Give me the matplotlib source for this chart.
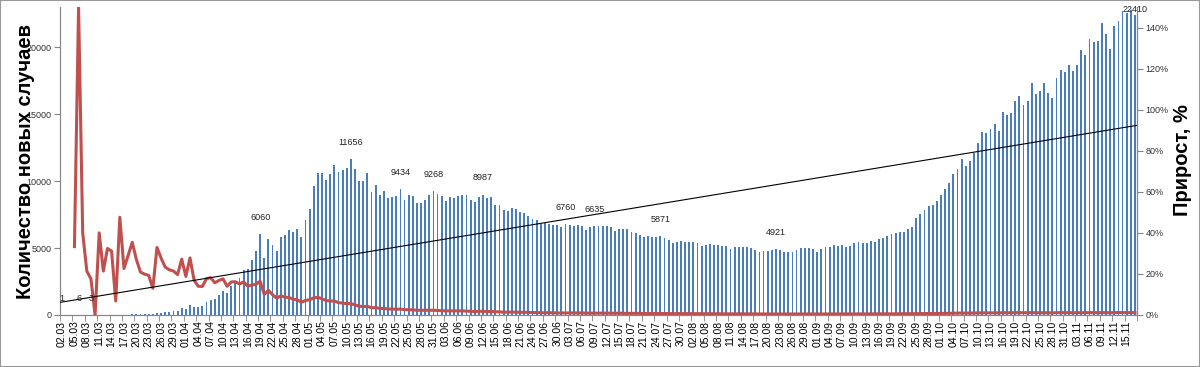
import numpy as np
import pandas as pd
import matplotlib.pyplot as plt
from matplotlib.patches import Rectangle

plt.rcParams['font.family'] = ['Liberation Sans', 'DejaVu Sans']

# daily new cases, 02.03 - 17.11
cases_mar = [1, 0, 0, 1, 6, 4, 3, 3, 0, 8, 6, 11, 14, 4, 30, 21, 33, 52, 54, 53,
             61, 71, 57, 163, 182, 196, 228, 270, 302, 500]
cases_apr = [440, 771, 601, 582, 658, 954, 1154, 1175, 1459, 1786, 1667, 2186, 2558,
             2774, 3388, 3448, 4070, 4785, 6060, 4268, 5642, 5236, 4774, 5849, 5966,
             6361, 6198, 6411, 5841, 7099]
cases_may = [7933, 9623, 10633, 10581, 10102, 10559, 11231, 10699, 10817, 11012, 11656,
             10899, 10028, 9974, 10598, 9200, 9709, 8926, 9263, 8764, 8849, 8894, 9434,
             8599, 8946, 8915, 8338, 8371, 8572, 8952, 9268]
cases_jun = [9035, 8863, 8536, 8831, 8726, 8855, 8984, 8985, 8595, 8404, 8779, 8987,
             8706, 8835, 8246, 8248, 7843, 7790, 7972, 7889, 7728, 7600, 7425, 7176,
             7113, 6800, 6852, 6791, 6719, 6693]
cases_jul = [6556, 6760, 6718, 6632, 6736, 6611, 6368, 6562, 6635, 6632, 6615, 6611,
             6537, 6248, 6422, 6428, 6406, 6234, 6109, 5940, 5842, 5862, 5848, 5811,
             5871, 5765, 5635, 5395, 5475, 5509, 5482]
cases_aug = [5462, 5427, 5394, 5159, 5204, 5267, 5241, 5212, 5189, 5118, 4945, 5102,
             5057, 5061, 5065, 4969, 4839, 4718, 4748, 4767, 4870, 4921, 4852, 4696,
             4676, 4711, 4829, 4993, 4980, 4980, 4897]
cases_sep = [4729, 4952, 5110, 5110, 5205, 5185, 5195, 5099, 5172, 5363, 5449, 5406,
             5394, 5509, 5488, 5670, 5762, 5905, 6065, 6148, 6196, 6215, 6431, 6595,
             7212, 7523, 7867, 8135, 8232, 8481]
cases_oct = [8945, 9412, 9859, 10499, 10888, 11615, 11115, 11493, 12126, 12846, 13634,
             13592, 13868, 14231, 13754, 15150, 14922, 15099, 15982, 16319, 15700,
             15971, 17340, 16521, 16710, 17347, 16550, 16202, 17717, 18283, 18140]
cases_nov = [18665, 18257, 18648, 19768, 19404, 20582, 20396, 20498, 21798, 21020,
             19851, 21608, 21983, 22702, 22572, 22778, 22410]

# daily growth of the total, %
nan = np.nan
growth_mar = [nan, nan, nan, 33.3, 150, 40, 21.4, 17.6, 0, 40, 21.4, 32.4, 31.1, 6.8,
              47.6, 22.6, 28.9, 35.4, 27.1, 20.9, 19.9, 19.3, 13.0, 32.9, 27.7, 23.3,
              22.0, 21.4, 19.7, 27.2]
growth_apr = [18.8, 27.8, 16.9, 14.0, 13.9, 17.7, 18.2, 15.7, 16.8, 17.6, 14.0, 16.1,
              16.2, 15.1, 16.1, 14.1, 14.6, 14.9, 16.5, 10.0, 12.0, 9.9, 8.2, 9.3, 8.7,
              8.5, 7.7, 7.4, 6.2, 7.1]
growth_may = [7.4, 8.4, 8.6, 7.9, 7.0, 6.8, 6.8, 6.0, 5.8, 5.5, 5.6, 4.9, 4.3, 4.1, 4.2,
              3.5, 3.6, 3.2, 3.2, 2.9, 2.9, 2.8, 2.9, 2.6, 2.6, 2.5, 2.3, 2.3, 2.3, 2.3,
              2.3]
growth_jun = [2.2, 2.1, 2.0, 2.0, 2.0, 2.0, 2.0, 1.9, 1.8, 1.7, 1.8, 1.8, 1.7, 1.7, 1.6,
              1.5, 1.4, 1.4, 1.4, 1.4, 1.3, 1.3, 1.3, 1.2, 1.2, 1.1, 1.1, 1.1, 1.1, 1.0]
growth_jul = [1.0, 1.0, 1.0, 1.0, 1.0, 1.0, 0.9, 0.9, 0.9, 0.9, 0.9, 0.9, 0.9, 0.8, 0.9,
              0.8, 0.8, 0.8, 0.8, 0.8, 0.7, 0.7, 0.7, 0.7, 0.7, 0.7, 0.7, 0.6, 0.7, 0.7,
              0.7]
growth_aug = [0.65, 0.64, 0.63, 0.60, 0.60, 0.61, 0.60, 0.59, 0.58, 0.57, 0.55, 0.56,
              0.55, 0.55, 0.55, 0.53, 0.52, 0.50, 0.50, 0.50, 0.51, 0.51, 0.50, 0.49,
              0.48, 0.49, 0.50, 0.51, 0.51, 0.50, 0.49]
growth_sep = [0.48, 0.50, 0.51, 0.51, 0.52, 0.51, 0.51, 0.50, 0.50, 0.52, 0.53, 0.52,
              0.52, 0.53, 0.52, 0.54, 0.55, 0.56, 0.57, 0.57, 0.57, 0.57, 0.59, 0.60,
              0.65, 0.68, 0.71, 0.73, 0.73, 0.75]
growth_oct = [0.76, 0.79, 0.83, 0.87, 0.90, 0.95, 0.90, 0.92, 0.96, 1.01, 1.06, 1.05,
              1.06, 1.07, 1.03, 1.12, 1.09, 1.09, 1.14, 1.15, 1.10, 1.10, 1.18, 1.12,
              1.12, 1.15, 1.08, 1.05, 1.13, 1.16, 1.13]
growth_nov = [1.15, 1.12, 1.13, 1.18, 1.15, 1.20, 1.18, 1.17, 1.23, 1.17, 1.09, 1.18,
              1.18, 1.21, 1.19, 1.18, 1.15]

# bars that carry a value label
labelled_days = ['02.03', '06.03', '09.03', '19.04', '11.05', '23.05', '31.05',
                 '12.06', '02.07', '09.07', '25.07', '22.08', '17.11']

cases = np.array(cases_mar + cases_apr + cases_may + cases_jun + cases_jul +
                 cases_aug + cases_sep + cases_oct + cases_nov)
growth = np.array(growth_mar + growth_apr + growth_may + growth_jun + growth_jul +
                  growth_aug + growth_sep + growth_oct + growth_nov) / 100
days = pd.date_range('2020-03-02', periods=len(cases)).strftime('%d.%m').tolist()
x = np.arange(len(cases))

gray = '#868686'
fig = plt.figure(figsize=(12, 3.67), dpi=100)
ax = fig.add_axes([0.05, 0.1417, 0.8975, 0.8392])

ax.bar(x, cases, width=0.45, color='#4a7ebb', zorder=2)
ax.set_xlim(-0.5, len(x) - 0.5)
ax.set_ylim(0, 23000)

ax.set_yticks(range(0, 20001, 5000))
ax.tick_params(axis='y', labelsize=6.5, length=4, color=gray, labelcolor='#333333', pad=2)
ax.set_xticks(x[::3])
ax.set_xticklabels(days[::3], rotation=90, fontsize=7.5)
ax.set_xticks(np.arange(-0.5, len(x), 3), minor=True)
ax.tick_params(axis='x', which='major', length=0, pad=4)
ax.tick_params(axis='x', which='minor', length=4, color=gray)

ax2 = ax.twinx()
ax2.plot(x, growth, color='#c0504d', lw=2.2, zorder=2)
ax2.set_ylim(0, 1.5)
ax2.set_yticks(np.arange(0, 1.41, 0.2))
ax2.set_yticklabels([f'{v}%' for v in range(0, 141, 20)])
ax2.tick_params(axis='y', labelsize=6.5, length=4, color=gray, labelcolor='#333333', pad=2)

# linear trend of the bars, drawn above the red line
k, b = np.polyfit(x, cases, 1)
xt = np.array([-0.5, len(x) - 0.5])
ax2.plot(xt, k * xt + b, color='black', lw=0.8, zorder=3, transform=ax.transData)

for d in labelled_days:
    i = days.index(d)
    dy = 4 if i == len(x) - 1 else 12
    ax2.annotate(str(cases[i]), (i, cases[i]), xycoords=ax.transData, xytext=(0, dy),
                 textcoords='offset points', ha='center', va='center', fontsize=6.5,
                 color='#222222', zorder=5)

for a in (ax, ax2):
    a.spines['top'].set_visible(False)
    for s in ('left', 'right', 'bottom'):
        a.spines[s].set_color(gray)
        a.spines[s].set_linewidth(0.8)

fig.text(0.021, 0.561, 'Количество новых случаев', rotation=90, ha='center', va='center',
         fontsize=14.5, fontweight='bold')
fig.text(0.985, 0.564, 'Прирост, %', rotation=90, ha='center', va='center',
         fontsize=14.5, fontweight='bold')

fig.patches.append(Rectangle((0, 0), 1, 1, transform=fig.transFigure, fill=False,
                             edgecolor='#999999', lw=1.5))

fig.savefig('out.png', dpi=100)
